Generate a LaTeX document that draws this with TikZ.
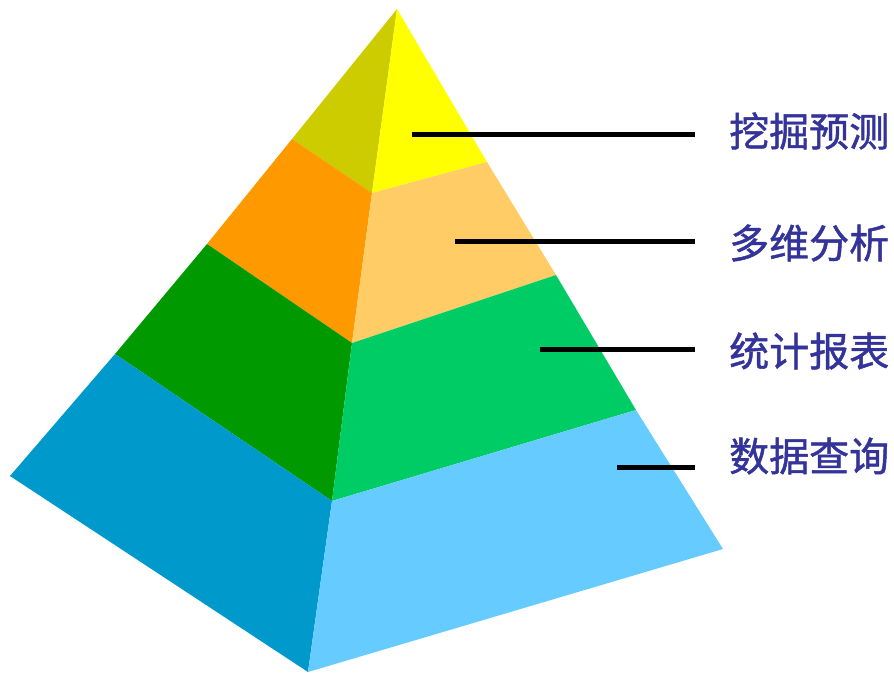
\documentclass[tikz,border=0pt]{standalone}
\usepackage{fontspec}
\newfontfamily\cjk[FakeBold=1.2]{Noto Sans CJK SC}
\definecolor{labc}{HTML}{333399}
\definecolor{yl}{HTML}{CCCC00}
\definecolor{yr}{HTML}{FFFF00}
\definecolor{ol}{HTML}{FF9900}
\definecolor{or}{HTML}{FFCC66}
\definecolor{gl}{HTML}{009900}
\definecolor{gr}{HTML}{00CC66}
\definecolor{bl}{HTML}{0099CC}
\definecolor{br}{HTML}{66CCFF}
\begin{document}
\begin{tikzpicture}[x=1pt,y=-1pt,
  lab/.style={anchor=west,inner sep=0pt,text=labc,font=\cjk\fontsize{40}{40}\selectfont},
  lead/.style={line width=5pt,black}]
\useasboundingbox (0,0) rectangle (894,672);
% apex and layer corners
\coordinate (A) at (397,9);
\coordinate (L1) at (292,139); \coordinate (F1) at (372,193); \coordinate (R1) at (487,162);
\coordinate (L2) at (207,244); \coordinate (F2) at (352,343); \coordinate (R2) at (556,275);
\coordinate (L3) at (115,354); \coordinate (F3) at (332,501); \coordinate (R3) at (636,410);
\coordinate (L4) at (10,476);  \coordinate (F4) at (308,672); \coordinate (R4) at (723,549);
% faces
\fill[yl] (A) -- (L1) -- (F1) -- cycle;
\fill[yr] (A) -- (F1) -- (R1) -- cycle;
\fill[ol] (L1) -- (L2) -- (F2) -- (F1) -- cycle;
\fill[or] (F1) -- (F2) -- (R2) -- (R1) -- cycle;
\fill[gl] (L2) -- (L3) -- (F3) -- (F2) -- cycle;
\fill[gr] (F2) -- (F3) -- (R3) -- (R2) -- cycle;
\fill[bl] (L3) -- (L4) -- (F4) -- (F3) -- cycle;
\fill[br] (F3) -- (F4) -- (R4) -- (R3) -- cycle;
% labels
\node[lab] (t1) at (729,131) {挖掘预测};
\node[lab] (t2) at (729,243) {多维分析};
\node[lab] (t3) at (729,351) {统计报表};
\node[lab] (t4) at (729,456) {数据查询};
\coordinate (s1) at (412,134);
\coordinate (s2) at (455,241);
\coordinate (s3) at (540,349);
\coordinate (s4) at (617,467);
\draw[lead] (s1) -- (695,134);
\draw[lead] (s2) -- (695,241);
\draw[lead] (s3) -- (695,349);
\draw[lead] (s4) -- (695,467);
\end{tikzpicture}
\end{document}
